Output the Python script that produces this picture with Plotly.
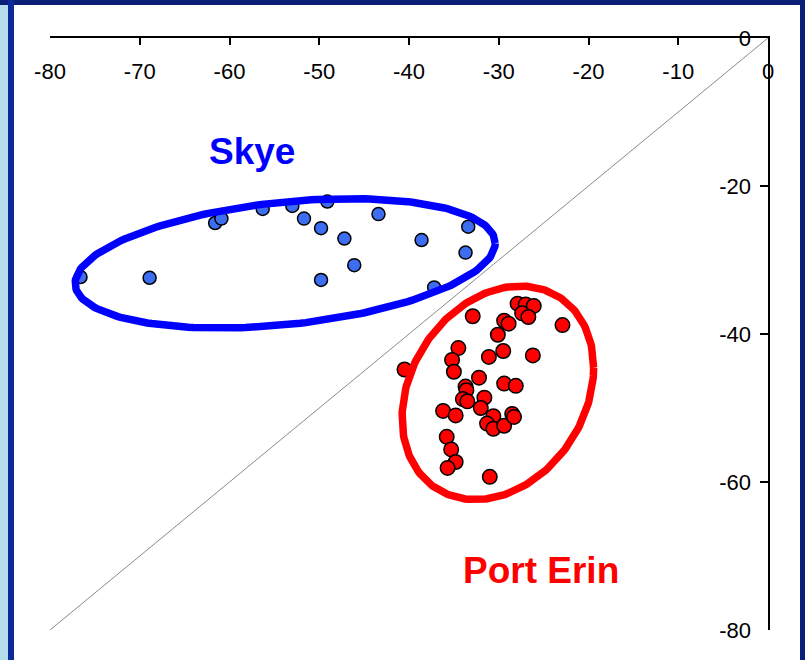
import numpy as np
import plotly.graph_objects as go

# ---------------- data ----------------
skye_x = [-76.6, -68.9, -61.6, -60.9, -56.3, -53.0, -49.1, -51.7, -49.8, -47.2,
          -43.4, -38.6, -33.4, -33.7, -46.1, -49.8, -37.2]
skye_y = [-32.3, -32.4, -25.0, -24.4, -23.1, -22.7, -22.1, -24.4, -25.7, -27.1,
          -23.8, -27.3, -25.5, -29.0, -30.7, -32.7, -33.7]

port_x = [-40.5, -32.9, -27.9, -27.0, -26.1, -27.4, -26.7, -29.4, -28.9, -22.9,
          -30.1, -34.5, -35.2, -35.0, -31.1, -29.5, -26.2, -32.2, -33.7, -33.6,
          -29.4, -28.1, -34.0, -33.5, -31.6, -32.0, -36.2, -34.8, -30.6, -31.3,
          -30.6, -29.4, -28.5, -28.3, -35.8, -35.3, -34.8, -35.7, -31.0]
port_y = [-44.8, -37.6, -35.9, -36.0, -36.2, -37.2, -37.7, -38.2, -38.6, -38.8,
          -40.1, -41.9, -43.5, -45.1, -43.1, -42.3, -42.9, -45.9, -47.1, -47.6,
          -46.7, -47.0, -48.8, -49.1, -48.6, -50.0, -50.4, -51.0, -51.1, -52.1,
          -52.8, -52.4, -50.8, -51.2, -53.9, -55.6, -57.3, -58.1, -59.3]

# ellipse parameters: centre, half-width, half-height, correlation
skye_ellipse = dict(cx=-53.8, cy=-30.45, hx=23.4, hy=8.75, rho=0.31)
port_ellipse = dict(cx=-30.1, cy=-47.95, hx=10.67, hy=14.43, rho=0.235)

x_ticks = [-80, -70, -60, -50, -40, -30, -20, -10, 0]
x_ticktext = ["-80", "-70", "-60", "-50", "-40", "-30", "-20", "-10", "0"]
y_ticks = [0, -20, -40, -60, -80]
y_ticktext = ["0", "-20", "-40", "-60", "-80"]
axis_range = [-80, 0]

labels = [("Skye", -57.5, -15.4, "#0000ff"), ("Port Erin", -25.3, -71.9, "#ff0000")]

# ---------------- layout constants ----------------
W, H = 805, 660
ML, MR, MT, MB = 50, 37, 38, 30
PW, PH = W - ML - MR, H - MT - MB


def px_to_paper(px, py):
    return (px - ML) / PW, 1 - (py - MT) / PH


def ellipse(p, n=240):
    t = np.linspace(0, 2 * np.pi, n)
    sxx, syy = p["hx"] ** 2, p["hy"] ** 2
    sxy = p["rho"] * p["hx"] * p["hy"]
    l11 = np.sqrt(sxx)
    l21 = sxy / l11
    l22 = np.sqrt(syy - l21 ** 2)
    x = p["cx"] + l11 * np.cos(t)
    y = p["cy"] + l21 * np.cos(t) + l22 * np.sin(t)
    return x, y


font_family = "Liberation Sans, Arial, sans-serif"
tick_family = "Liberation Sans Narrow, Arial Narrow, Liberation Sans, sans-serif"

fig = go.Figure()

# diagonal 1:1 line (on the overlay axes, which carry the tick labels)
fig.add_trace(go.Scatter(x=axis_range, y=axis_range, mode="lines", xaxis="x2", yaxis="y2",
                         line=dict(color="#8a8a8a", width=1), hoverinfo="skip"))

fig.add_trace(go.Scatter(x=skye_x, y=skye_y, mode="markers",
                         marker=dict(size=13, color="#3d6ef2",
                                     line=dict(color="black", width=1.5))))
fig.add_trace(go.Scatter(x=port_x, y=port_y, mode="markers",
                         marker=dict(size=14.5, color="#ff0000",
                                     line=dict(color="black", width=1.5))))

ex, ey = ellipse(skye_ellipse)
fig.add_trace(go.Scatter(x=ex, y=ey, mode="lines",
                         line=dict(color="#0000ff", width=7.5)))
ex, ey = ellipse(port_ellipse)
fig.add_trace(go.Scatter(x=ex, y=ey, mode="lines",
                         line=dict(color="#ff0000", width=7.5)))

for txt, x, y, col in labels:
    fig.add_annotation(x=x, y=y, text="<b>%s</b>" % txt, showarrow=False,
                       font=dict(family=font_family, size=37, color=col))

# frame: white panel, blue borders, light textured strip on the left
shapes = []
x0, y0 = px_to_paper(14, 5)
x1, y1 = px_to_paper(800, 660)
shapes.append(dict(type="rect", xref="paper", yref="paper", x0=x0, y0=y1, x1=x1, y1=y0,
                   fillcolor="white", line=dict(width=0), layer="below"))
x0, y0 = px_to_paper(8, 0)
x1, y1 = px_to_paper(14, 660)
shapes.append(dict(type="rect", xref="paper", yref="paper", x0=x0, y0=y1, x1=x1, y1=y0,
                   fillcolor="#0a2a9c", line=dict(width=0), layer="below"))
x0, y0 = px_to_paper(0, 5)
x1, y1 = px_to_paper(8, 660)
shapes.append(dict(type="rect", xref="paper", yref="paper", x0=x0, y0=y1, x1=x1, y1=y0,
                   fillcolor="#b5dcec", line=dict(width=0), layer="below"))

xlab_pos = px_to_paper(0, 83)[1]      # baseline row of x tick labels
ylab_pos = px_to_paper(751, 0)[0]     # right edge column of y tick labels

tickfont = dict(family=tick_family, size=22, color="black")

fig.update_layout(
    width=W, height=H, autosize=False,
    margin=dict(l=ML, r=MR, t=MT, b=MB, pad=0),
    paper_bgcolor="#0c1f78", plot_bgcolor="rgba(0,0,0,0)",
    showlegend=False, shapes=shapes,
    font=dict(family=font_family, size=20, color="black"),
    xaxis=dict(range=axis_range, side="top", tickvals=x_ticks, ticks="inside",
               ticklen=7, tickwidth=1.5, tickcolor="black",
               showline=True, linecolor="black", linewidth=1.5,
               showgrid=False, zeroline=False, showticklabels=False),
    yaxis=dict(range=axis_range, side="right", tickvals=y_ticks, ticks="inside",
               ticklen=8, tickwidth=1.5, tickcolor="black",
               showline=True, linecolor="black", linewidth=1.5,
               showgrid=False, zeroline=False, showticklabels=False),
    xaxis2=dict(range=axis_range, overlaying="x", side="top", anchor="free",
                position=xlab_pos, tickvals=x_ticks, ticktext=x_ticktext, ticks="",
                showline=False, showgrid=False, zeroline=False, tickfont=tickfont),
    yaxis2=dict(range=axis_range, overlaying="y", side="left", anchor="free",
                position=ylab_pos, tickvals=y_ticks, ticktext=y_ticktext, ticks="",
                showline=False, showgrid=False, zeroline=False, tickfont=tickfont),
)

fig.write_html("out.html", config={"displayModeBar": False},
               post_script="document.body.style.margin='0';document.body.style.overflow='hidden';")
